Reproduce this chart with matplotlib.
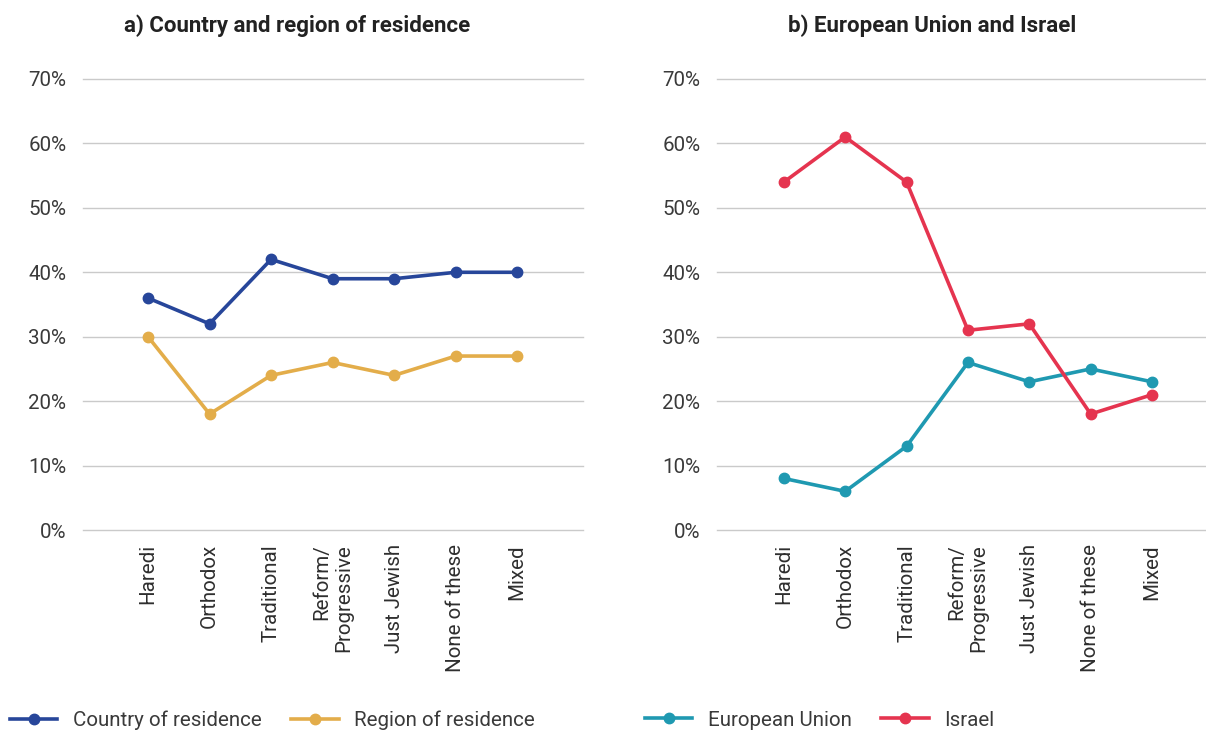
import matplotlib
matplotlib.use('Agg')
import matplotlib.pyplot as plt
from matplotlib.lines import Line2D

plt.rcParams['font.family'] = ['Roboto', 'DejaVu Sans']

# categories and series (%)
categories = ['Haredi', 'Orthodox', 'Traditional', 'Reform/\nProgressive',
              'Just Jewish', 'None of these', 'Mixed']
country = [36, 32, 42, 39, 39, 40, 40]
region = [30, 18, 24, 26, 24, 27, 27]
eu = [8, 6, 13, 26, 23, 25, 23]
israel = [54, 61, 54, 31, 32, 18, 21]
y_ticks = [0, 10, 20, 30, 40, 50, 60, 70]

COLORS = {'country': '#27469A', 'region': '#E3AD4A',
          'eu': '#1F99B1', 'israel': '#E5344F'}
GRID = '#CACACA'
TEXT = '#3A3A3A'
FS = 14.8

fig = plt.figure(figsize=(12.06, 7.33), dpi=100)
W, H = 1206, 733


def make_axes(x0, x1):
    return fig.add_axes([x0 / W, 1 - 530 / H, (x1 - x0) / W, (530 - 79) / H])


def style(ax, xlim):
    ax.set_ylim(0, 70)
    ax.set_xlim(*xlim)
    ax.set_yticks(y_ticks)
    ax.set_yticklabels([f'{v}%' for v in y_ticks], fontsize=FS, color=TEXT)
    ax.set_xticks(range(len(categories)))
    ax.set_xticklabels(categories, rotation=90, fontsize=FS, color='#2E2E2E',
                       va='top', ha='center', multialignment='right')
    ax.tick_params(axis='both', length=0)
    ax.tick_params(axis='y', pad=12)
    ax.tick_params(axis='x', pad=10)
    for s in ax.spines.values():
        s.set_visible(False)
    ax.grid(axis='y', color=GRID, linewidth=1)
    for gl in ax.get_ygridlines():
        gl.set_clip_on(False)
    ax.set_axisbelow(True)


x = list(range(len(categories)))
line_kw = dict(linewidth=2.6, marker='o', markersize=7.5)

# a) country and region
ax1 = make_axes(83, 583)
style(ax1, (-1.057, 7.07))
ax1.plot(x, country, color=COLORS['country'], **line_kw)
ax1.plot(x, region, color=COLORS['region'], **line_kw)

# b) EU and Israel
ax2 = make_axes(717, 1206)
style(ax2, (-1.09, 6.88))
ax2.plot(x, eu, color=COLORS['eu'], **line_kw)
ax2.plot(x, israel, color=COLORS['israel'], **line_kw)

fig.text(297 / W, 1 - 26 / H, 'a) Country and region of residence',
         ha='center', va='center', fontsize=16, fontweight='bold', color='#222222')
fig.text(932 / W, 1 - 26 / H, 'b) European Union and Israel',
         ha='center', va='center', fontsize=16, fontweight='bold', color='#222222')


def handle(c):
    return Line2D([], [], color=c, **line_kw)


leg_kw = dict(loc='center left', frameon=False, ncol=2, fontsize=FS,
              handlelength=2.3, handletextpad=0.75, columnspacing=1.45,
              borderpad=0, borderaxespad=0, labelcolor=TEXT)
fig.legend([handle(COLORS['country']), handle(COLORS['region'])],
           ['Country of residence', 'Region of residence'],
           bbox_to_anchor=(10 / W, 1 - 720 / H), **leg_kw)
fig.legend([handle(COLORS['eu']), handle(COLORS['israel'])],
           ['European Union', 'Israel'],
           bbox_to_anchor=(645 / W, 1 - 720 / H), **leg_kw)

fig.savefig('out.png', dpi=100)
